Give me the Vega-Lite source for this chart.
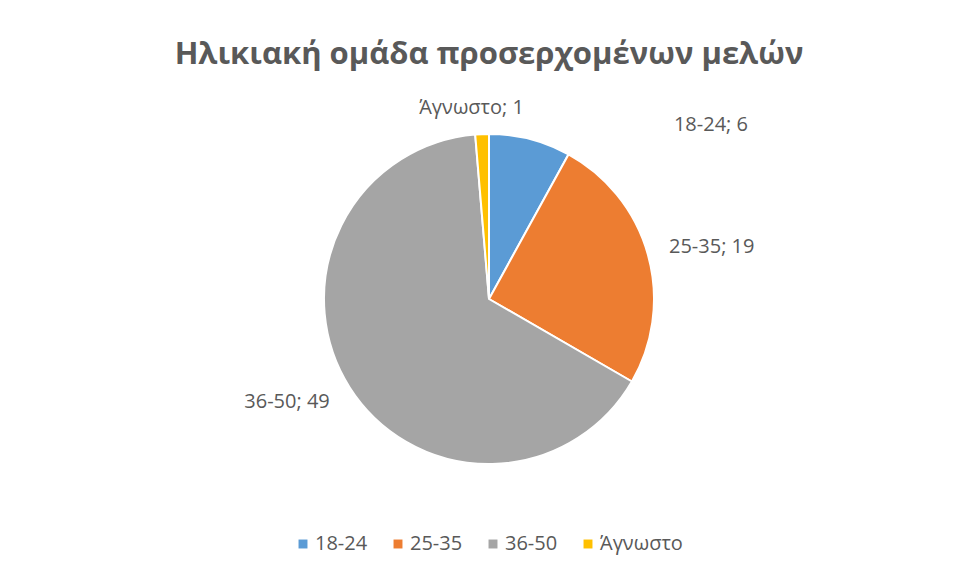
{
  "$schema": "https://vega.github.io/schema/vega-lite/v6.json",
  "autosize": {"type": "none"},
  "width": 940,
  "height": 398,
  "padding": {"left": 19, "top": 100, "right": 0, "bottom": 77},
  "background": "white",
  "title": {
    "text": "Ηλικιακή ομάδα προσερχομένων μελών",
    "font": "Open Sans",
    "fontSize": 31,
    "fontWeight": "bold",
    "color": "#595959",
    "anchor": "middle",
    "frame": "group",
    "offset": -25
  },
  "data": {
    "values": [
      {"cat": "18-24", "n": 6, "label": "18-24; 6"},
      {"cat": "25-35", "n": 19, "label": "25-35; 19"},
      {"cat": "36-50", "n": 49, "label": "36-50; 49"},
      {"cat": "Άγνωστο", "n": 1, "label": "Άγνωστο; 1"}
    ]
  },
  "encoding": {
    "theta": {"field": "n", "type": "quantitative", "stack": true},
    "color": {
      "field": "cat",
      "type": "nominal",
      "scale": {
        "domain": ["18-24", "25-35", "36-50", "Άγνωστο"],
        "range": ["#5B9BD5", "#ED7D31", "#A5A5A5", "#FFC000"]
      },
      "legend": {
        "title": null,
        "orient": "none",
        "legendX": 274,
        "legendY": 434,
        "direction": "horizontal",
        "symbolType": "square",
        "symbolSize": 80,
        "symbolStrokeWidth": 0,
        "labelFont": "Open Sans",
        "labelFontSize": 20,
        "labelColor": "#595959",
        "columnPadding": 20,
        "labelOffset": 2
      }
    }
  },
  "layer": [
    {
      "mark": {"type": "arc", "outerRadius": 165, "stroke": "white", "strokeWidth": 2}
    },
    {
      "mark": {"type": "text", "radius": 225, "dx": 166, "dy": 44, "font": "Open Sans", "fontSize": 20, "fill": "#595959"},
      "encoding": {"text": {"condition": {"test": "datum.cat === '18-24'", "field": "label"}, "value": ""}, "color": {"value": "#595959"}}
    },
    {
      "mark": {"type": "text", "radius": 225, "dx": 6, "dy": 9, "font": "Open Sans", "fontSize": 20, "fill": "#595959"},
      "encoding": {"text": {"condition": {"test": "datum.cat === '25-35'", "field": "label"}, "value": ""}, "color": {"value": "#595959"}}
    },
    {
      "mark": {"type": "text", "radius": 225, "dx": -12, "dy": -18, "font": "Open Sans", "fontSize": 20, "fill": "#595959"},
      "encoding": {"text": {"condition": {"test": "datum.cat === '36-50'", "field": "label"}, "value": ""}, "color": {"value": "#595959"}}
    },
    {
      "mark": {"type": "text", "radius": 225, "dx": -8, "dy": 34, "font": "Open Sans", "fontSize": 20, "fill": "#595959"},
      "encoding": {"text": {"condition": {"test": "datum.cat === 'Άγνωστο'", "field": "label"}, "value": ""}, "color": {"value": "#595959"}}
    }
  ],
  "config": {"view": {"stroke": null}}
}
